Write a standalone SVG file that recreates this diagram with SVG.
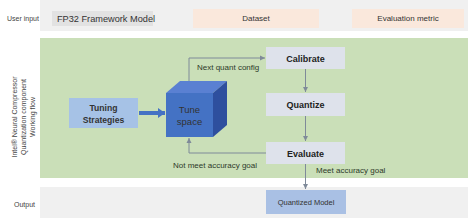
<svg xmlns="http://www.w3.org/2000/svg" width="468" height="218" viewBox="0 0 468 218">
<defs>
<marker id="ah" markerWidth="6" markerHeight="6" refX="5" refY="3" orient="auto" markerUnits="userSpaceOnUse">
<path d="M0,0.5 L5,3 L0,5.5 z" fill="#7f8a99"/>
</marker>
<marker id="big" markerWidth="8" markerHeight="10" refX="7" refY="5" orient="auto" markerUnits="userSpaceOnUse">
<path d="M0,0 L7,5 L0,10 z" fill="#4472c4"/>
</marker>
<style>
text{font-family:"Liberation Sans",Arial,sans-serif;fill:#333}
.side{font-size:7px;fill:#444}
.band{fill:#f0f0f0}
.peach{fill:#fae8dc}
.step{fill:#dee2eb}
.stepT{font-size:9px;font-weight:bold;fill:#222;text-anchor:middle}
.lbl{font-size:8px;fill:#2d3a2a}
.conn{stroke:#7f8a99;stroke-width:1;fill:none}
</style>
</defs>
<rect width="468" height="218" fill="#ffffff"/>
<g id="user-input">
<rect class="band" x="40" y="0" width="428" height="31"/>
<text class="side" x="7" y="21">User input</text>
<g id="fp32">
<rect x="52" y="11" width="101" height="15" fill="#e2e2e2"/>
<text x="57" y="22" font-size="9.2" fill="#222">FP32 Framework Model</text>
</g>
<g id="dataset">
<rect class="peach" x="193" y="9" width="126" height="19"/>
<text x="256" y="21" font-size="8" text-anchor="middle">Dataset</text>
</g>
<g id="metric">
<rect class="peach" x="352" y="9" width="112" height="19"/>
<text x="408" y="21" font-size="8" text-anchor="middle">Evaluation metric</text>
</g>
</g>
<g id="workflow">
<rect x="40" y="38" width="428" height="140" fill="#cadfb8"/>
<text class="side" transform="translate(25,117) rotate(-90)" text-anchor="middle"><tspan x="0" y="-8">Intel® Neural Compressor</tspan><tspan x="0" y="1">Quantization component</tspan><tspan x="0" y="10">Working flow</tspan></text>
</g>
<g id="output-band">
<rect class="band" x="40" y="187" width="428" height="31"/>
<text class="side" x="14" y="207">Output</text>
</g>
<g id="connectors">
<line x1="139" y1="113" x2="165" y2="113" stroke="#4472c4" stroke-width="4" marker-end="url(#big)"/>
<polyline class="conn" points="189,81 189,58 265,58" marker-end="url(#ah)"/>
<line class="conn" x1="305.5" y1="69" x2="305.5" y2="92" marker-end="url(#ah)"/>
<line class="conn" x1="305.5" y1="116" x2="305.5" y2="141" marker-end="url(#ah)"/>
<polyline class="conn" points="266,153 189,153 189,138" marker-end="url(#ah)"/>
<line class="conn" x1="305.5" y1="164" x2="305.5" y2="189" marker-end="url(#ah)"/>
<text class="lbl" x="197" y="70">Next quant config</text>
<text class="lbl" x="173" y="168">Not meet accuracy goal</text>
<text class="lbl" x="316" y="173">Meet accuracy goal</text>
</g>
<g id="tuning-strategies">
<rect x="69" y="98" width="69" height="30" fill="#a6c2e6"/>
<text x="103.5" y="111" font-size="8.6" font-weight="bold" fill="#2a3550" text-anchor="middle">Tuning</text>
<text x="103.5" y="123" font-size="8.6" font-weight="bold" fill="#2a3550" text-anchor="middle">Strategies</text>
</g>
<g id="tune-space">
<polygon points="166,93 180,81 227,81 213,93" fill="#5a80d2"/>
<polygon points="213,93 227,81 227,125 213,137" fill="#2e4f9e"/>
<rect x="166" y="93" width="47" height="44" fill="#4472c4"/>
<text x="189.5" y="113" font-size="9.5" fill="#e4ecff" text-anchor="middle">Tune</text>
<text x="189.5" y="125" font-size="9.5" fill="#e4ecff" text-anchor="middle">space</text>
</g>
<g id="calibrate">
<rect class="step" x="266" y="47" width="79" height="22"/>
<text class="stepT" x="305.5" y="61.5">Calibrate</text>
</g>
<g id="quantize">
<rect class="step" x="266" y="93" width="79" height="23"/>
<text class="stepT" x="305.5" y="107.5">Quantize</text>
</g>
<g id="evaluate">
<rect class="step" x="266" y="142" width="79" height="22"/>
<text class="stepT" x="305.5" y="156.5">Evaluate</text>
</g>
<g id="quantized-model">
<rect x="266" y="190" width="80" height="24" fill="#a9c0e4"/>
<text x="306" y="205" font-size="7.5" fill="#2a3550" text-anchor="middle">Quantized Model</text>
</g>
</svg>
